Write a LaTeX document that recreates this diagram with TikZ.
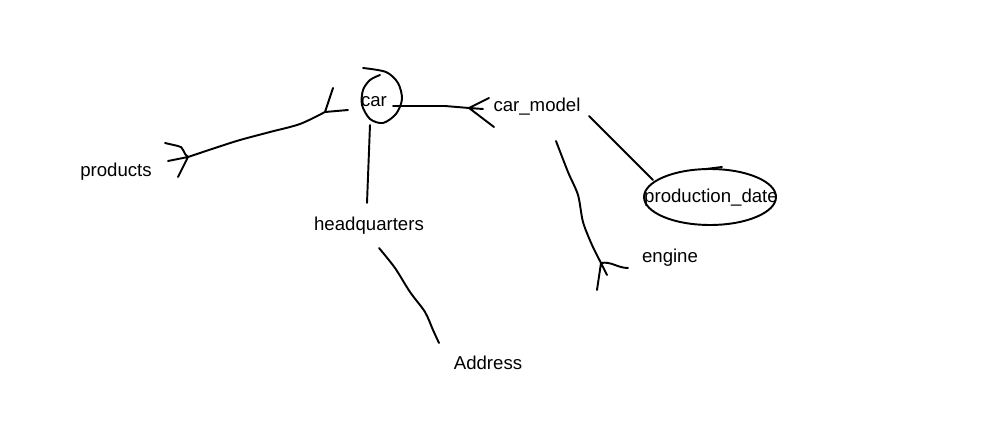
\documentclass[tikz,border=0pt]{standalone}
\usepackage{fontspec}
\setsansfont{Liberation Sans}
\usetikzlibrary{shapes.geometric}
\begin{document}
\begin{tikzpicture}[font=\sffamily\fontsize{10.6}{13}\selectfont,x=0.02cm,y=-0.02cm,
  line width=1.1pt,line cap=round,line join=round,
  ent/.style={inner sep=1pt}]
\useasboundingbox (0,0) rectangle (985,446);
% entities
\node[ent] (car) at (374,102) {car};
\node[ent] (cm) at (537,107) {car\_model};
\node[ent] (prod) at (116,172) {products};
\node[ent] (hq) at (369,226) {headquarters};
\node[ent] (addr) at (488,363) {Address};
\node[ent] (pd) at (711,198) {production\_date};
\node[ent] (eng) at (670,258) {engine};
% hand drawn rings
\draw plot[smooth] coordinates {(363,68) (386,72) (398,83) (402,99) (396,114) (383,123) (370,119) (362,105) (363,90) (370,80) (380,75)};
\draw (710,197) ellipse [x radius=1.32cm,y radius=0.56cm];
\draw (706,169)--(722,167);
% connector ends
\coordinate (carW) at (325,112); \coordinate (prodE) at (188,157);
\coordinate (carE) at (393,106); \coordinate (cmW) at (469,108);
\coordinate (carS) at (370,125); \coordinate (hqN) at (367,203);
\coordinate (hqS) at (379,248); \coordinate (addrN) at (439,343);
\coordinate (cmSE) at (589,116); \coordinate (pdNW) at (653,180);
\coordinate (cmS) at (556,141); \coordinate (engW) at (601,263);
% connectors
\draw plot[smooth] coordinates {(carW) (300,124) (270,132) (240,140) (218,147) (prodE)};
\draw (carE) -- (445,106) -- (cmW);
\draw (carS) -- (hqN);
\draw plot[smooth] coordinates {(hqS) (395,268) (410,292) (425,312) (433,330) (addrN)};
\draw (cmSE) -- (pdNW);
\draw plot[smooth] coordinates {(cmS) (568,172) (578,195) (583,222) (592,245) (engW)};
% crow's feet
\draw (carW) -- (333,88) (carW) -- (348,110);
\draw (prodE) to[out=150,in=0] (178,146) -- (165,143) (prodE) -- (168,161) (prodE) -- (178,177);
\draw (cmW) -- (489,98) (cmW) -- (494,127) (cmW) -- (483,109);
\draw (engW) to[out=10,in=180] (628,268) (engW) -- (597,290) (engW) -- (607,275);
\end{tikzpicture}
\end{document}
